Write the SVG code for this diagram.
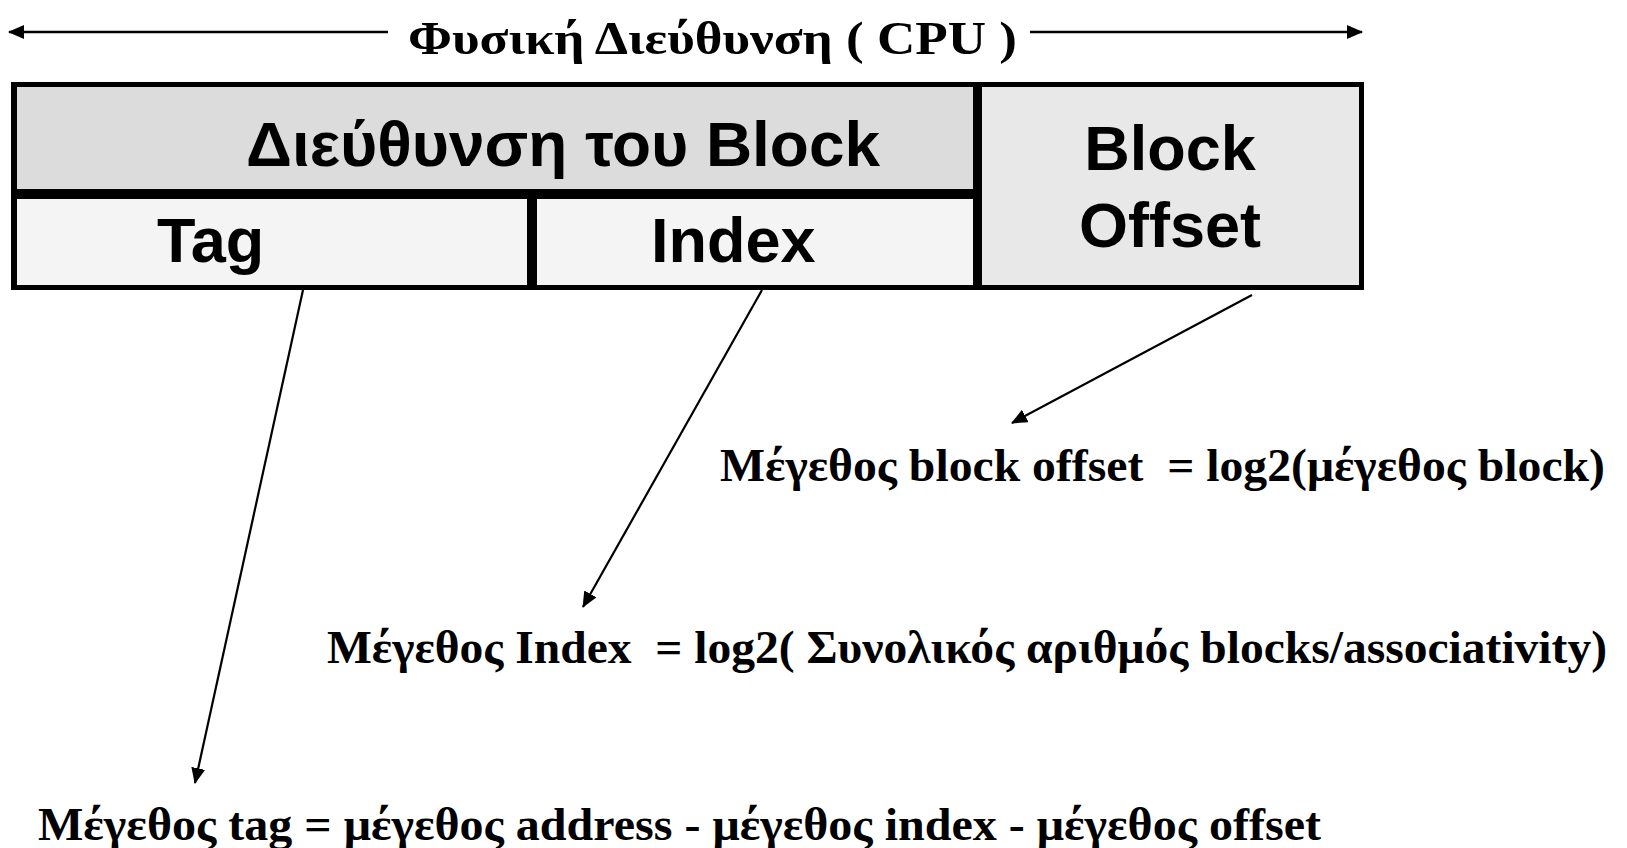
<svg xmlns="http://www.w3.org/2000/svg" width="1627" height="848" viewBox="0 0 1627 848">
<style>
.cell{font-family:"Liberation Sans",Arial,sans-serif;font-weight:bold;font-size:63px;fill:#000}
.serif{font-family:"Liberation Serif","Times New Roman",serif;font-weight:bold;fill:#000}
.conn{stroke:#000;stroke-width:2.2;fill:none}
.dim{stroke:#000;stroke-width:2.6;fill:none}
</style>
<defs>
<marker id="ah" viewBox="0 0 16 14" refX="15" refY="7" markerWidth="16" markerHeight="14" markerUnits="userSpaceOnUse" orient="auto">
<path d="M0,0 L16,7 L0,14 Z" fill="#000"/>
</marker>
</defs>
<rect x="0" y="0" width="1627" height="848" fill="#fff"/>

<g id="title">
<text class="serif" x="408" y="54" font-size="47" textLength="609" lengthAdjust="spacingAndGlyphs">Φυσική Διεύθυνση ( CPU )</text>
</g>

<g id="frame">
<rect x="11" y="82" width="1353" height="208" fill="#000"/>
</g>

<g id="block-address">
<rect x="17" y="87" width="956" height="102" fill="#dcdcdc"/>
<text class="cell" x="246" y="166" textLength="634" lengthAdjust="spacingAndGlyphs">Διεύθυνση του Block</text>
</g>

<g id="tag">
<rect x="17" y="199" width="510" height="86" fill="#f4f4f4"/>
<text class="cell" x="157" y="262">Tag</text>
</g>

<g id="index">
<rect x="537" y="199" width="436" height="86" fill="#f4f4f4"/>
<text class="cell" x="651" y="262">Index</text>
</g>

<g id="block-offset">
<rect x="982" y="87" width="377" height="198" fill="#e8e8e8"/>
<text class="cell" x="1170" y="170" text-anchor="middle">Block</text>
<text class="cell" x="1170" y="247" text-anchor="middle">Offset</text>
</g>

<g id="connectors">
<line class="dim" x1="388" y1="32" x2="9" y2="32" marker-end="url(#ah)"/>
<line class="dim" x1="1030" y1="32" x2="1362" y2="32" marker-end="url(#ah)"/>
<line class="conn" x1="303" y1="290" x2="195" y2="783" marker-end="url(#ah)"/>
<line class="conn" x1="762" y1="290" x2="583" y2="607" marker-end="url(#ah)"/>
<line class="conn" x1="1252" y1="295" x2="1012" y2="423" marker-end="url(#ah)"/>
</g>

<g id="formula-offset">
<text class="serif" x="720" y="481" font-size="47" xml:space="preserve" textLength="885" lengthAdjust="spacingAndGlyphs">Μέγεθος block offset  = log2(μέγεθος block)</text>
</g>

<g id="formula-index">
<text class="serif" x="327" y="663" font-size="47" xml:space="preserve" textLength="1280" lengthAdjust="spacingAndGlyphs">Μέγεθος Index  = log2( Συνολικός αριθμός blocks/associativity)</text>
</g>

<g id="formula-tag">
<text class="serif" x="38" y="840" font-size="47" textLength="1283" lengthAdjust="spacingAndGlyphs">Μέγεθος tag = μέγεθος address - μέγεθος index - μέγεθος offset</text>
</g>
</svg>
